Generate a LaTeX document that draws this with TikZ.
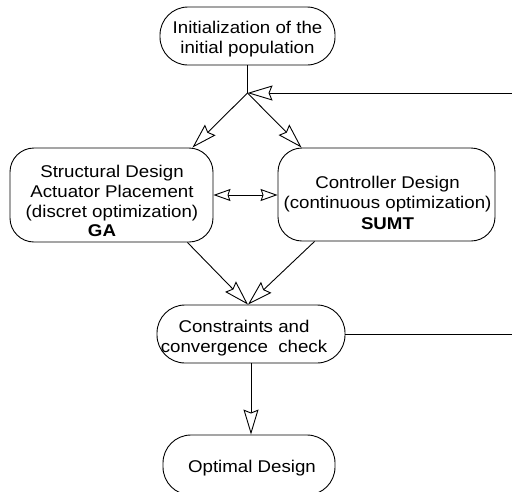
\documentclass[tikz,border=0pt]{standalone}
\usepackage{fontspec}
\setmainfont{Liberation Sans}[FakeStretch=1.1]
\usetikzlibrary{arrows.meta}
\begin{document}
\begin{tikzpicture}[x=1pt,y=-1pt,line width=0.9pt,
  font=\fontsize{17}{20}\selectfont,
  stadium/.style={draw, rounded corners=28pt, inner sep=0pt},
  roundbox/.style={draw, rounded corners=24pt, inner sep=0pt},
  txt/.style={align=center, inner sep=0pt},
  arr/.style={-{Stealth[open, fill=white, length=25pt, width=15pt, inset=3pt]}},
  darr/.style={{Stealth[open, fill=white, length=17pt, width=12pt, inset=2pt]}-{Stealth[open, fill=white, length=17pt, width=12pt, inset=2pt]}}]
\useasboundingbox (0,0) rectangle (512,491);
\clip (0,0) rectangle (512,491);
% shapes
\node[stadium, minimum width=175pt, minimum height=58pt] (init) at (247.5,36) {};
\node[roundbox, minimum width=203pt, minimum height=94pt] (struct) at (111.5,195) {};
\node[roundbox, minimum width=217pt, minimum height=93pt] (ctrl) at (386.5,194.5) {};
\node[stadium, minimum width=188pt, minimum height=58pt] (check) at (251,334) {};
\node[stadium, minimum width=172pt, minimum height=60pt] (opt) at (249,465) {};
% texts
\node[txt] (initT) at (247.5,39) {Initialization of the\\initial population};
\node[txt] (structT) at (112,201) {Structural Design\\Actuator Placement\\(discret optimization)\\[-1pt]\textbf{GA}\hspace*{20pt}};
\node[txt] (ctrlT) at (387.5,203) {Controller Design\\(continuous optimization)\\[1pt]\textbf{SUMT}};
\node[txt] (checkT) at (244,338) {Constraints and\\convergence~ check};
\node[txt] (optT) at (252,468) {Optimal Design};
% connectors
\coordinate (j) at (247.5,93);
\coordinate (fbtop) at (512,93);
\coordinate (fbbot) at (512,334);
\draw (init.south) -- (j);
\draw[arr] (fbtop) -- (j);
\draw[arr] (j) -- ([xshift=-21pt]struct.north east);
\draw[arr] (j) -- ([xshift=24pt]ctrl.north west);
\draw[darr] (struct.east) -- (ctrl.west |- struct.east);
\draw[arr] ([xshift=-26pt]struct.south east) -- ([xshift=-3pt]check.north);
\draw[arr] ([xshift=37pt]ctrl.south west) -- ([xshift=-3pt]check.north);
\draw (check.east) -- (fbbot);
\draw[arr] (check.south) -- (check.south |- opt.north);
\end{tikzpicture}
\end{document}
